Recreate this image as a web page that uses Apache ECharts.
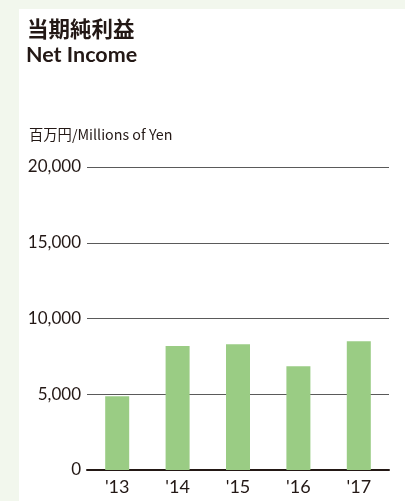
<!DOCTYPE html>
<html><head><meta charset="utf-8">
<script src="https://cdn.jsdelivr.net/npm/echarts@6/dist/echarts.min.js"></script>
<style>html,body{margin:0;padding:0;background:#f2f7ed;}#c{width:405px;height:501px;}</style>
</head><body><div id="c"></div>
<script>
const categories = ["'13", "'14", "'15", "'16", "'17"];
const netIncome = [4860, 8190, 8300, 6850, 8500];
const yTicks = [0, 5000, 10000, 15000, 20000];

const chart = echarts.init(document.getElementById('c'));
const numFont = "'Lato','Liberation Sans Narrow',sans-serif";
chart.setOption({
  backgroundColor: '#f2f7ed',
  graphic: [{type:'rect', left:19, top:9, shape:{width:386, height:492}, style:{fill:'#ffffff'}, z:-10}],
  title: [
    {text:'当期純利益', left:22, top:13, textStyle:{fontFamily:"'Noto Sans CJK JP',sans-serif", fontWeight:'bold', fontSize:21.5, color:'#231815'}},
    {text:'Net Income', left:21, top:39, textStyle:{fontFamily:"'Lato','Noto Sans',sans-serif", fontWeight:'bold', fontSize:21.5, color:'#231815'}},
    {text:'百万円/Millions of Yen', left:24, top:122, textStyle:{fontFamily:"'Noto Sans CJK JP',sans-serif", fontWeight:'normal', fontSize:14.3, color:'#231815'}}
  ],
  grid: {left:87, right:16, top:167, bottom:31, containLabel:false},
  xAxis: {
    type:'category', data:categories,
    axisLine:{show:true, lineStyle:{color:'#231815', width:2}},
    axisTick:{show:false},
    axisLabel:{color:'#231815', fontSize:18, fontFamily:numFont, margin:8}
  },
  yAxis: {
    type:'value', min:yTicks[0], max:yTicks[yTicks.length-1], interval:yTicks[1]-yTicks[0],
    axisLine:{show:false}, axisTick:{show:false},
    axisLabel:{color:'#231815', fontSize:17, fontFamily:numFont, margin:6,
      formatter:v=>v.toLocaleString('en-US')},
    splitLine:{lineStyle:{color:'#5a5a5a', width:1}}
  },
  series: [{type:'bar', data:netIncome, barWidth:24, itemStyle:{color:'#9acc84'}, animation:false}],
  animation:false
});
</script></body></html>
